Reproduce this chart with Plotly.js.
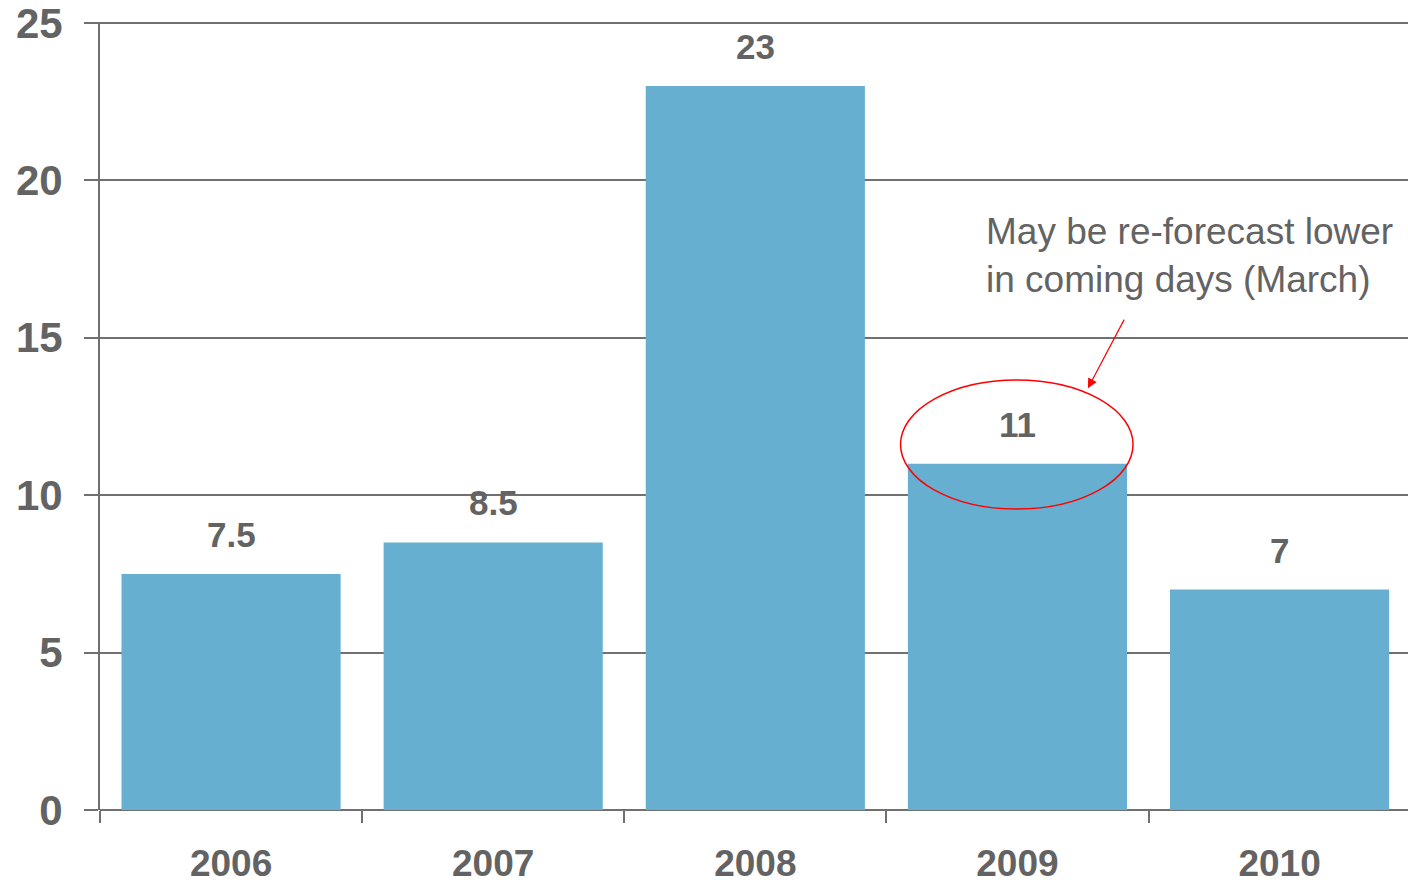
<!DOCTYPE html>
<html>
<head>
<meta charset="utf-8">
<script src="https://cdn.plot.ly/plotly-3.0.1.min.js"></script>
<style>html,body{margin:0;padding:0;background:#fff;}#chart{width:1408px;height:883px;}</style>
</head>
<body>
<div id="chart"></div>
<script>
const years = ["2006", "2007", "2008", "2009", "2010"];
const values = [7.5, 8.5, 23, 11, 7];
const valueLabels = ["7.5", "8.5", "23", "11", "7"];
const yTicks = [0, 5, 10, 15, 20, 25];
const noteText = "May be re-forecast lower<br>in coming days (March)";

const gray = "#636363";
const lineGray = "#707070";
const font = "Liberation Sans, Arial, sans-serif";

const trace = {
  type: "bar",
  x: years,
  y: values,
  marker: {color: "#67AFD0", line: {width: 0}},
  hoverinfo: "x+y"
};

const labelAnns = years.map((yr, i) => ({
  x: i, y: values[i], xref: "x", yref: "y",
  text: "<b>" + valueLabels[i] + "</b>",
  showarrow: false, yanchor: "bottom", yshift: 18,
  font: {family: font, size: 35, color: gray}
}));

const topY = yTicks[yTicks.length - 1];

const layout = {
  width: 1408, height: 883,
  margin: {l: 100, r: 0, t: 22, b: 73},
  paper_bgcolor: "#fff", plot_bgcolor: "#fff",
  bargap: 0.164,
  showlegend: false,
  font: {family: font, color: gray},
  xaxis: {
    type: "category",
    categoryorder: "array",
    categoryarray: years,
    range: [-0.5, 4.49],
    autorange: false,
    tickson: "boundaries",
    ticks: "outside", ticklen: 12, tickwidth: 2, tickcolor: lineGray,
    showgrid: false, showline: false, zeroline: false,
    tickangle: 0,
    tickfont: {family: font, size: 37, color: gray, weight: "bold"},
    ticklabelstandoff: 28,
    ticklabeloverflow: "allow"
  },
  yaxis: {
    range: [0, 25.03],
    autorange: false,
    tickvals: yTicks,
    ticktext: yTicks.map(String),
    ticks: "outside", ticklen: 14, tickwidth: 2, tickcolor: lineGray,
    showgrid: true, gridcolor: lineGray, gridwidth: 2,
    showline: true, linecolor: lineGray, linewidth: 2,
    zeroline: true, zerolinecolor: lineGray, zerolinewidth: 2,
    tickfont: {family: font, size: 42, color: gray, weight: "bold"},
    ticklabelstandoff: 13,
    ticklabeloverflow: "allow"
  },
  shapes: [
    {
      type: "line", xref: "paper", yref: "y",
      x0: 0, x1: 1, y0: topY, y1: topY,
      line: {color: lineGray, width: 2}, layer: "below"
    },
    {
      type: "circle", xref: "x", yref: "y",
      x0: 2.554, x1: 3.441, y0: 9.56, y1: 13.66,
      line: {color: "#FF0000", width: 1.5},
      fillcolor: "rgba(0,0,0,0)"
    }
  ],
  annotations: labelAnns.concat([
    {
      x: 2.872, y: 19.08, xref: "x", yref: "y",
      xanchor: "left", yanchor: "top", align: "left",
      text: noteText, showarrow: false,
      font: {family: font, size: 37, color: gray}
    },
    {
      x: 3.269, y: 13.4, xref: "x", yref: "y",
      ax: 37, ay: -70, axref: "pixel", ayref: "pixel",
      text: "", showarrow: true,
      arrowhead: 2, arrowsize: 1.6, arrowwidth: 1.2, arrowcolor: "#FF0000"
    }
  ])
};

Plotly.newPlot("chart", [trace], layout, {displayModeBar: false, staticPlot: true});
</script>
</body>
</html>
